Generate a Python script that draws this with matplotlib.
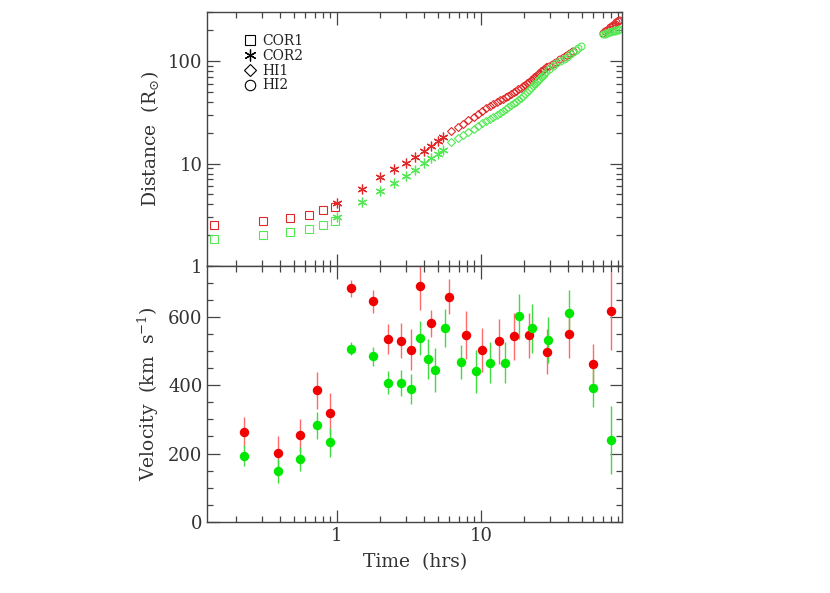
"""
Distance and velocity of a CME front against time (COR1 / COR2 / HI1 / HI2),
two stacked panels on a shared log time axis.
"""

import matplotlib
matplotlib.use("Agg")
import matplotlib.pyplot as plt
from matplotlib.lines import Line2D
from matplotlib.ticker import FixedLocator, LogLocator, NullFormatter, FuncFormatter, MultipleLocator

plt.rcParams["font.family"] = "DejaVu Serif"
plt.rcParams["mathtext.fontset"] = "dejavuserif"

# ─── Colours ─────────────────────────────────────────────────────────────────
RED_OPEN   = "#e02828"
GREEN_OPEN = "#55e855"
RED_DOT    = "#f00000"
GREEN_DOT  = "#00e800"
RED_ERR    = "#ff6a6a"
GREEN_ERR  = "#40dd40"
AX_COL     = "#444444"

# ─── Top panel: distance (R_sun) ─────────────────────────────────────────────
cor1_t     = [0.141, 0.306, 0.474, 0.639, 0.803, 0.973]
cor1_red   = [2.53, 2.77, 2.93, 3.17, 3.49, 3.75]
cor1_green = [1.85, 2.00, 2.13, 2.29, 2.53, 2.74]

cor2_t     = [1.0, 1.5, 2.0, 2.5, 3.0, 3.5, 4.0, 4.5, 5.0, 5.5]
cor2_red   = [4.14, 5.71, 7.42, 8.80, 10.2, 11.6, 13.3, 15.0, 16.5, 18.2]
cor2_green = [2.98, 4.20, 5.46, 6.53, 7.59, 8.68, 10.1, 11.3, 12.5, 13.7]

hi1_t     = [6.2, 6.9, 7.5, 8.2, 8.9, 9.5, 10.2, 10.9, 11.5, 12.2, 12.9, 13.5,
             14.2, 14.9, 15.5, 16.2, 16.9, 17.5, 18.2, 18.9, 19.5, 20.2, 20.9,
             21.5, 22.2, 22.9, 23.5, 24.2, 24.9, 25.5, 26.2, 26.9, 27.5, 28.2]
hi1_red   = [20.8, 22.8, 24.6, 26.7, 28.8, 30.6, 32.7, 34.6, 36.2, 38.0, 39.8, 41.3,
             43.0, 44.7, 46.2, 47.9, 49.7, 51.3, 53.2, 55.1, 56.9, 59.0, 61.1,
             63.0, 65.2, 67.5, 69.6, 72.1, 74.6, 76.9, 79.6, 82.3, 84.7, 87.5]
hi1_green = [16.3, 17.7, 19.0, 20.4, 21.9, 23.2, 24.7, 26.1, 27.3, 28.7, 30.1, 31.3,
             32.7, 34.1, 35.4, 37.0, 38.6, 40.2, 42.1, 44.1, 45.9, 48.0, 50.2,
             52.2, 54.6, 57.0, 59.2, 61.8, 64.4, 66.7, 69.5, 72.3, 74.8, 77.8]

hi2a_t_red   = [29.5, 31.5, 33.5, 35.5, 37.5, 39.5, 41.5, 43.5]
hi2a_red     = [89.5, 94.0, 99.0, 104.0, 109.0, 114.5, 119.5, 125.0]
hi2a_t_green = [29.5, 31.5, 33.5, 35.5, 37.5, 39.5, 41.5, 43.5, 45.5, 47.5, 49.5]
hi2a_green   = [84.0, 89.5, 95.0, 100.5, 106.0, 111.0, 116.5, 122.0, 128.0, 134.0, 141.0]

hi2b_t     = [71.0, 73.0, 75.0, 77.0, 79.0, 81.0, 83.0, 85.0, 87.0, 89.0, 91.0]
hi2b_red   = [190, 195, 201, 208, 214, 221, 227, 233, 239, 245, 251]
hi2b_green = [184, 186, 188, 191, 193, 195, 197, 199, 201, 203, 205]

# ─── Bottom panel: velocity (km/s) ───────────────────────────────────────────
vel_t_red = [0.225, 0.389, 0.556, 0.726, 0.889, 1.245, 1.77, 2.27, 2.77, 3.26, 3.77,
             4.52, 5.96, 7.87, 10.2, 13.3, 16.9, 21.5, 28.9, 40.8, 59.6, 79.5]
vel_red   = [263, 203, 253, 386, 318, 685, 646, 536, 531, 505, 692,
             582, 660, 548, 503, 529, 544, 547, 498, 550, 464, 617]
err_red   = [44, 47, 49, 54, 60, 25, 35, 45, 52, 59, 70,
             40, 52, 71, 65, 66, 69, 66, 66, 69, 56, 114]

vel_t_green = [0.225, 0.389, 0.556, 0.726, 0.889, 1.245, 1.77, 2.27, 2.77, 3.26, 3.77,
               4.26, 4.77, 5.59, 7.26, 9.23, 11.5, 14.6, 18.3, 22.7, 29.4, 40.8, 59.6, 79.5]
vel_green   = [193, 149, 185, 283, 233, 508, 485, 408, 407, 390, 540,
               478, 445, 568, 468, 442, 466, 467, 603, 567, 533, 612, 392, 239]
err_green   = [31, 34, 35, 40, 42, 18, 27, 33, 39, 44, 50,
               59, 65, 56, 50, 63, 60, 60, 66, 71, 67, 67, 56, 99]

X_LIM = (0.126, 96.0)


def style_axis(ax):
    for sp in ax.spines.values():
        sp.set_color(AX_COL)
        sp.set_linewidth(1.0)
    ax.tick_params(which="both", direction="in", top=True, right=True,
                   color=AX_COL, labelcolor="#333333", labelsize=13, width=0.9)
    ax.tick_params(which="major", length=9)
    ax.tick_params(which="minor", length=4.5)


plain = FuncFormatter(lambda v, p: f"{v:g}")

fig = plt.figure(figsize=(8.30, 5.93), dpi=100)
ax1 = fig.add_axes([0.2498, 0.5514, 0.5, 0.4279])
ax2 = fig.add_axes([0.2498, 0.1202, 0.5, 0.4312])

# ─── Distance panel ──────────────────────────────────────────────────────────
ms_kw = dict(linestyle="none", markerfacecolor="none", markeredgewidth=0.8)
ax1.plot(cor1_t, cor1_red,   marker="s", markersize=6, color=RED_OPEN, **ms_kw)
ax1.plot(cor1_t, cor1_green, marker="s", markersize=6, color=GREEN_OPEN, **ms_kw)
ax1.plot(cor2_t, cor2_red,   marker=(6, 2, 0), markersize=7, color=RED_OPEN, linestyle="none", markeredgewidth=0.9)
ax1.plot(cor2_t, cor2_green, marker=(6, 2, 0), markersize=7, color=GREEN_OPEN, linestyle="none", markeredgewidth=0.9)
ax1.plot(hi1_t, hi1_red,   marker="D", markersize=3.6, color=RED_OPEN, **ms_kw)
ax1.plot(hi1_t, hi1_green, marker="D", markersize=3.6, color=GREEN_OPEN, **ms_kw)
ax1.plot(hi2a_t_red, hi2a_red,     marker="o", markersize=5, color=RED_OPEN, **ms_kw)
ax1.plot(hi2a_t_green, hi2a_green, marker="o", markersize=5, color=GREEN_OPEN, **ms_kw)
ax1.plot(hi2b_t, hi2b_red,   marker="o", markersize=5, color=RED_OPEN, **ms_kw)
ax1.plot(hi2b_t, hi2b_green, marker="o", markersize=5, color=GREEN_OPEN, **ms_kw)

ax1.set_xscale("log")
ax1.set_yscale("log")
ax1.set_xlim(*X_LIM)
ax1.set_ylim(1, 300)
ax1.yaxis.set_major_locator(FixedLocator([1, 10, 100]))
ax1.yaxis.set_major_formatter(plain)
ax1.yaxis.set_minor_locator(LogLocator(base=10, subs=range(2, 10)))
ax1.yaxis.set_minor_formatter(NullFormatter())
ax1.xaxis.set_major_locator(FixedLocator([1, 10]))
ax1.xaxis.set_minor_locator(LogLocator(base=10, subs=range(2, 10)))
ax1.xaxis.set_major_formatter(NullFormatter())
ax1.xaxis.set_minor_formatter(NullFormatter())
style_axis(ax1)
ax1.set_ylabel(r"Distance  (R$_{\odot}$)", fontsize=13.5, color="#333333", labelpad=5)

handles = [
    Line2D([], [], marker="s", color="black", markerfacecolor="none", linestyle="none", markersize=7.5, markeredgewidth=0.8),
    Line2D([], [], marker=(6, 2, 0), color="black", linestyle="none", markersize=8.5, markeredgewidth=0.9),
    Line2D([], [], marker="D", color="black", markerfacecolor="none", linestyle="none", markersize=6.5, markeredgewidth=0.8),
    Line2D([], [], marker="o", color="black", markerfacecolor="none", linestyle="none", markersize=7.5, markeredgewidth=0.8),
]
leg = ax1.legend(handles, ["COR1", "COR2", "HI1", "HI2"], loc="upper left",
                 bbox_to_anchor=(0.075, 0.935), frameon=False, fontsize=10,
                 handlelength=0.8, handletextpad=0.5, labelspacing=0.05,
                 borderaxespad=0.0)
for txt in leg.get_texts():
    txt.set_color("#222222")

# ─── Velocity panel ──────────────────────────────────────────────────────────
ax2.errorbar(vel_t_red, vel_red, yerr=err_red, fmt="none", ecolor=RED_ERR,
             elinewidth=1.0, capsize=0, zorder=2)
ax2.errorbar(vel_t_green, vel_green, yerr=err_green, fmt="none", ecolor=GREEN_ERR,
             elinewidth=1.0, capsize=0, zorder=2)
ax2.plot(vel_t_red, vel_red, "o", color=RED_DOT, markersize=6.8, markeredgewidth=0, zorder=3)
ax2.plot(vel_t_green, vel_green, "o", color=GREEN_DOT, markersize=6.8, markeredgewidth=0, zorder=3)

ax2.set_xscale("log")
ax2.set_xlim(*X_LIM)
ax2.set_ylim(0, 750)
ax2.yaxis.set_major_locator(FixedLocator([0, 200, 400, 600]))
ax2.yaxis.set_minor_locator(MultipleLocator(50))
ax2.xaxis.set_major_locator(FixedLocator([1, 10]))
ax2.xaxis.set_major_formatter(plain)
ax2.xaxis.set_minor_locator(LogLocator(base=10, subs=range(2, 10)))
ax2.xaxis.set_minor_formatter(NullFormatter())
style_axis(ax2)
ax2.set_ylabel(r"Velocity  (km  s$^{-1}$)", fontsize=13.5, color="#333333", labelpad=5)
ax2.set_xlabel("Time  (hrs)", fontsize=13.5, color="#333333", labelpad=6)

plt.savefig("out.png", dpi=100)
plt.close()
